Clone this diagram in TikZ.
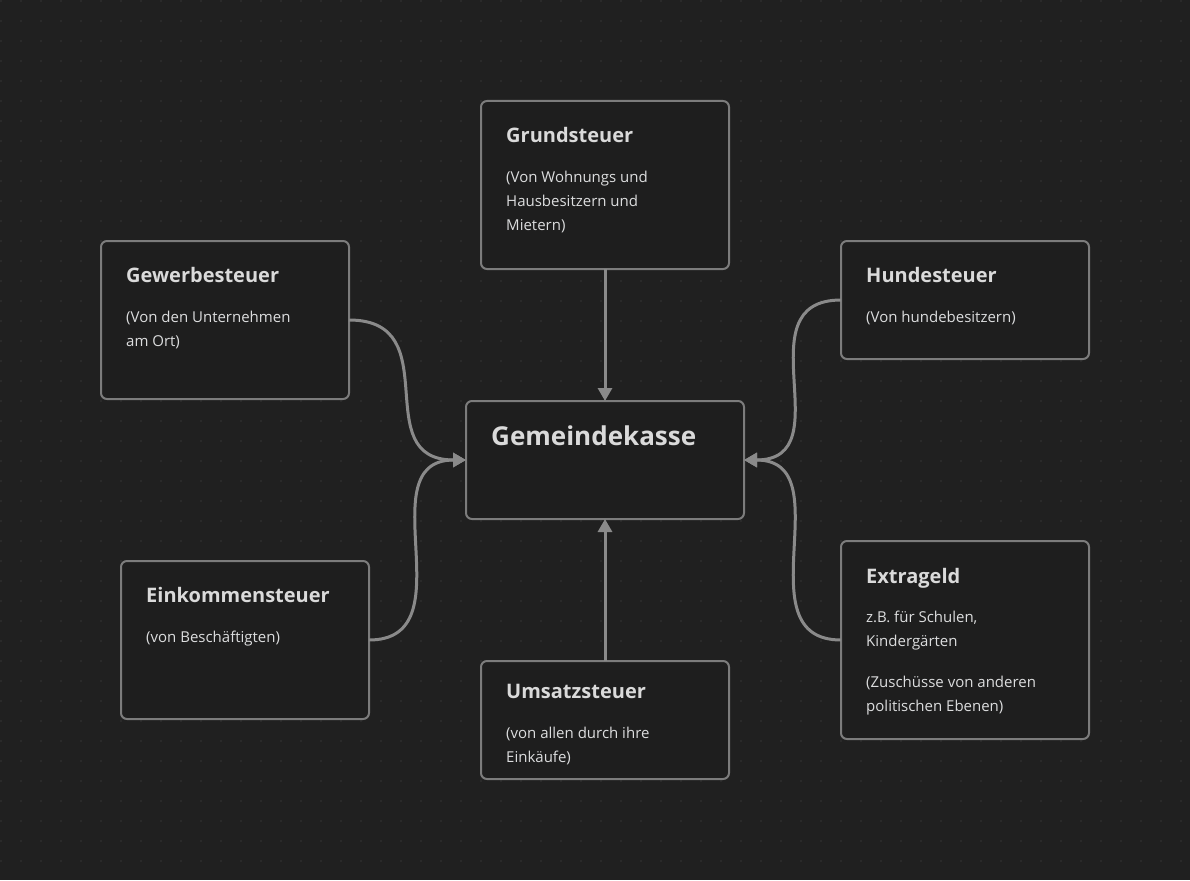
\documentclass[tikz,border=0pt]{standalone}
\usepackage{fontspec}
\setmainfont{Open Sans}
\usepackage{tikz}
\usetikzlibrary{arrows.meta, positioning, calc}

\definecolor{canvasbg}{HTML}{202020}
\definecolor{cardbg}{HTML}{1E1E1E}
\definecolor{cardline}{HTML}{7C7C7C}
\definecolor{edgeline}{HTML}{8A8A8A}
\definecolor{griddot}{HTML}{363636}
\definecolor{headtext}{HTML}{DADADA}
\definecolor{notetext}{HTML}{DCDDDE}

\begin{document}
\begin{tikzpicture}[
		x=1pt, y=-1pt,
		>={Triangle[length=13pt,width=14pt]},
		card/.style={
				rectangle,
				inner sep=0pt,
				outer sep=0pt,
				minimum width=248pt,
				rounded corners=6pt,
				line width=2pt,
				draw=cardline,
				fill=cardbg
			},
		heading/.style={
				anchor=base west,
				inner sep=0pt,
				text=headtext,
				font=\fontsize{20}{24}\selectfont\bfseries
			},
		notes/.style={
				anchor=north west,
				inner sep=0pt,
				align=left,
				text=notetext,
				font=\fontsize{15}{24}\selectfont,
				execute at begin node=\strut
			},
		flow/.style={->, line width=3pt, draw=edgeline},
		]

		% canvas with dot grid
		\fill[canvasbg] (0,0) rectangle (1190,880);
		\useasboundingbox (0,0) rectangle (1190,880);
		\foreach \i in {0,...,59}
			\foreach \j in {0,...,43}
				\fill[griddot] (\i*20+1,\j*20+1) circle (0.9);

		\node[card, minimum width=278pt, minimum height=118pt] (kasse) at (605,460) {};
		\node[heading, font=\fontsize{26}{30}\selectfont\bfseries] (kassetitle) at ($(kasse.north west)+(25,44)$) {Gemeindekasse};

		\node[card, minimum height=168pt, above=132pt of kasse] (grund) {};
		\node[heading] (grundtitle) at ($(grund.north west)+(25,41)$) {Grundsteuer};
		\node[notes] (grundnotes) at ($(grund.north west)+(25,70)$) {(Von Wohnungs und\\Hausbesitzern und\\Mietern)};

		\node[card, minimum height=118pt, below=142pt of kasse] (umsatz) {};
		\node[heading] (umsatztitle) at ($(umsatz.north west)+(25,37)$) {Umsatzsteuer};
		\node[notes] (umsatznotes) at ($(umsatz.north west)+(25,66)$) {(von allen durch ihre\\Einkäufe)};

		\node[card, minimum height=158pt] (gewerbe) at (225,320) {};
		\node[heading] (gewerbetitle) at ($(gewerbe.north west)+(25,41)$) {Gewerbesteuer};
		\node[notes] (gewerbenotes) at ($(gewerbe.north west)+(25,70)$) {(Von den Unternehmen\\am Ort)};

		\node[card, minimum height=158pt] (einkommen) at (245,640) {};
		\node[heading] (einkommentitle) at ($(einkommen.north west)+(25,41)$) {Einkommensteuer};
		\node[notes] (einkommennotes) at ($(einkommen.north west)+(25,64)$) {(von Beschäftigten)};

		\node[card, minimum height=118pt] (hunde) at (965,300) {};
		\node[heading] (hundetitle) at ($(hunde.north west)+(25,41)$) {Hundesteuer};
		\node[notes] (hundenotes) at ($(hunde.north west)+(25,64)$) {(Von hundebesitzern)};

		\node[card, minimum height=198pt] (extra) at (965,640) {};
		\node[heading] (extratitle) at ($(extra.north west)+(25,42)$) {Extrageld};
		\node[notes] (extranotes) at ($(extra.north west)+(25,70)$) {z.B. für Schulen,\\Kindergärten\\[17pt](Zuschüsse von anderen\\politischen Ebenen)};

		\draw[flow] (grund) -- (kasse);

		\draw[flow] (umsatz) -- (kasse);

		\draw[flow] (gewerbe.east) .. controls +(100,0) and +(-100,0) .. (kasse.west);

		\draw[flow] (einkommen.east) .. controls +(100,0) and +(-100,0) .. (kasse.west);

		\draw[flow] (hunde.west) .. controls +(-100,0) and +(100,0) .. (kasse.east);

		\draw[flow] (extra.west) .. controls +(-100,0) and +(100,0) .. (kasse.east);

	\end{tikzpicture}
\end{document}
